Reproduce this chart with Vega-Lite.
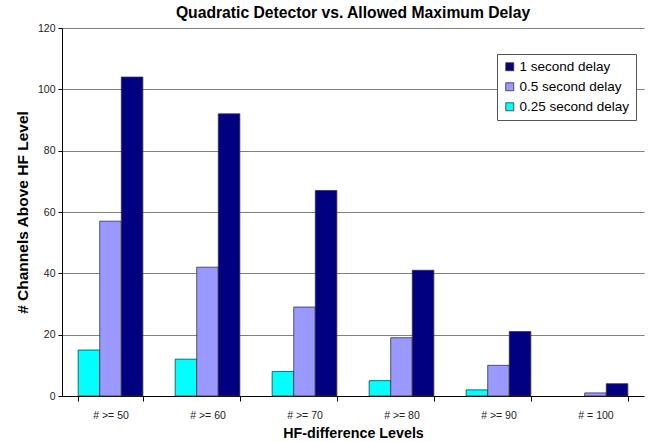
{
  "$schema": "https://vega.github.io/schema/vega-lite/v6.json",
  "autosize": {"type": "none"},
  "padding": {"left": 62, "top": 28, "right": 11, "bottom": 46},
  "width": 582,
  "height": 368,
  "background": "white",
  "title": {
    "text": "Quadratic Detector vs. Allowed Maximum Delay",
    "font": "Liberation Sans",
    "fontSize": 15.7,
    "fontWeight": "bold",
    "color": "black",
    "offset": 1
  },
  "data": {
    "values": [
      {"level": "# >= 50", "delay": "0.25 second delay", "value": 15},
      {"level": "# >= 50", "delay": "0.5 second delay", "value": 57},
      {"level": "# >= 50", "delay": "1 second delay", "value": 104},
      {"level": "# >= 60", "delay": "0.25 second delay", "value": 12},
      {"level": "# >= 60", "delay": "0.5 second delay", "value": 42},
      {"level": "# >= 60", "delay": "1 second delay", "value": 92},
      {"level": "# >= 70", "delay": "0.25 second delay", "value": 8},
      {"level": "# >= 70", "delay": "0.5 second delay", "value": 29},
      {"level": "# >= 70", "delay": "1 second delay", "value": 67},
      {"level": "# >= 80", "delay": "0.25 second delay", "value": 5},
      {"level": "# >= 80", "delay": "0.5 second delay", "value": 19},
      {"level": "# >= 80", "delay": "1 second delay", "value": 41},
      {"level": "# >= 90", "delay": "0.25 second delay", "value": 2},
      {"level": "# >= 90", "delay": "0.5 second delay", "value": 10},
      {"level": "# >= 90", "delay": "1 second delay", "value": 21},
      {"level": "# = 100", "delay": "0.25 second delay", "value": 0},
      {"level": "# = 100", "delay": "0.5 second delay", "value": 1},
      {"level": "# = 100", "delay": "1 second delay", "value": 4}
    ]
  },
  "mark": {"type": "bar", "stroke": "#333333", "strokeWidth": 0.8},
  "encoding": {
    "x": {
      "field": "level",
      "type": "nominal",
      "sort": null,
      "scale": {"paddingInner": 0.333, "paddingOuter": 0.1667},
      "axis": {
        "title": "HF-difference Levels",
        "titleFont": "Liberation Sans",
        "titleFontSize": 14.3,
        "titleFontWeight": "bold",
        "titleColor": "black",
        "titlePadding": 6,
        "labelAngle": 0,
        "labelFont": "Liberation Sans",
        "labelFontSize": 10.5,
        "labelColor": "#222222",
        "labelPadding": 9,
        "tickBand": "extent",
        "tickSize": 5,
        "tickColor": "black",
        "domainColor": "black",
        "grid": false
      }
    },
    "xOffset": {
      "field": "delay",
      "type": "nominal",
      "sort": ["0.25 second delay", "0.5 second delay", "1 second delay"]
    },
    "y": {
      "field": "value",
      "type": "quantitative",
      "scale": {"domain": [0, 120], "nice": false},
      "axis": {
        "title": "# Channels Above HF Level",
        "titleFont": "Liberation Sans",
        "titleFontSize": 15.5,
        "titleFontWeight": "bold",
        "titleColor": "black",
        "titlePadding": 7,
        "values": [0, 20, 40, 60, 80, 100, 120],
        "labelFont": "Liberation Sans",
        "labelFontSize": 10.5,
        "labelColor": "#222222",
        "labelPadding": 3,
        "tickSize": 4,
        "tickColor": "black",
        "domainColor": "black",
        "grid": true,
        "gridColor": "#808080",
        "gridWidth": 1
      }
    },
    "strokeOpacity": {
      "condition": {"test": "datum.value == 0", "value": 0},
      "value": 1
    },
    "color": {
      "field": "delay",
      "type": "nominal",
      "scale": {
        "domain": ["1 second delay", "0.5 second delay", "0.25 second delay"],
        "range": ["#000080", "#9999FF", "#00FFFF"]
      },
      "legend": {
        "title": null,
        "orient": "none",
        "legendX": 435,
        "legendY": 26,
        "fillColor": "white",
        "strokeColor": "#555555",
        "padding": 6,
        "symbolType": "square",
        "symbolSize": 64,
        "symbolStrokeColor": "#333333",
        "symbolStrokeWidth": 0.8,
        "symbolOpacity": 1,
        "labelFont": "Liberation Sans",
        "labelFontSize": 13.5,
        "labelColor": "black",
        "labelOffset": 3,
        "rowPadding": 5
      }
    }
  },
  "config": {"view": {"stroke": null}}
}
